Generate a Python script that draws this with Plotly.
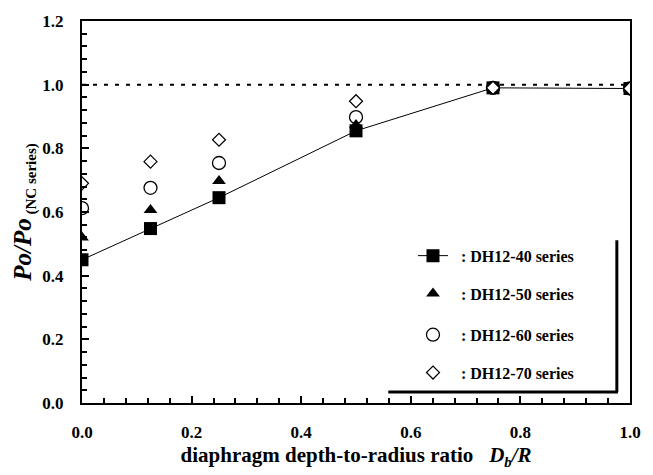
import plotly.graph_objects as go

# ---- data ----
ratio = [0.0, 0.125, 0.25, 0.5, 0.75, 1.0]
dh12_40 = [0.45, 0.548, 0.645, 0.855, 0.99, 0.988]
dh12_50 = [0.52, 0.606, 0.697, 0.873, 0.99, 0.988]
dh12_60 = [0.612, 0.676, 0.754, 0.898, 0.99, 0.988]
dh12_70 = [0.69, 0.758, 0.827, 0.948, 0.99, 0.988]
ref_x = [0.0, 1.0]
ref_y = [1.0, 1.0]
x_ticks = [0.0, 0.2, 0.4, 0.6, 0.8, 1.0]
y_ticks = [0.0, 0.2, 0.4, 0.6, 0.8, 1.0, 1.2]

FONT = "Liberation Serif"

fig = go.Figure()

fig.add_trace(go.Scatter(
    x=ref_x, y=ref_y, mode="lines", showlegend=False, hoverinfo="skip",
    line=dict(color="black", width=2, dash="4px,7px")))

fig.add_trace(go.Scatter(
    x=ratio, y=dh12_40, mode="lines+markers", name="  : DH12-40 series",
    legend="legend",
    line=dict(color="black", width=1),
    marker=dict(symbol="square", size=13, color="black")))

fig.add_trace(go.Scatter(
    x=ratio, y=dh12_50, mode="markers", name="  : DH12-50 series",
    legend="legend2",
    marker=dict(symbol="triangle-up", size=12, color="black")))

fig.add_trace(go.Scatter(
    x=ratio, y=dh12_60, mode="markers", name="  : DH12-60 series",
    legend="legend3",
    marker=dict(symbol="circle-open", size=13, color="black",
                line=dict(width=1.3, color="black"))))

fig.add_trace(go.Scatter(
    x=ratio, y=dh12_70, mode="markers", name="  : DH12-70 series",
    legend="legend4",
    marker=dict(symbol="diamond", size=10, color="white",
                line=dict(width=1.2, color="black"))))

axis_common = dict(
    showline=True, linecolor="black", linewidth=2, mirror=True,
    ticks="inside", ticklen=7, tickwidth=2, tickcolor="black",
    showgrid=False, zeroline=False,
    tickfont=dict(family=FONT, size=17, color="black", weight="bold"),
)

fig.update_xaxes(
    **axis_common,
    range=[0, 1.0], tickvals=x_ticks, tickformat=".1f",
    ticklabelstandoff=13,
    minor=dict(dtick=0.04, ticks="inside", ticklen=5, tickwidth=2, tickcolor="black"),
    title=dict(text="diaphragm depth-to-radius ratio   <i>D<sub>b</sub>/R</i>",
               font=dict(family=FONT, size=21, color="black", weight="bold"),
               standoff=6),
)
fig.update_yaxes(
    **axis_common,
    range=[0, 1.2], tickvals=y_ticks, tickformat=".1f",
    ticklabelstandoff=13,
    minor=dict(dtick=0.04, ticks="inside", ticklen=5, tickwidth=2, tickcolor="black"),
    title=dict(text="<i>Po/Po</i><sub><span style='font-size:15px'> (NC series)</span></sub>",
               font=dict(family=FONT, size=25, color="black", weight="bold"),
               standoff=4),
)

fig.add_shape(type="line", xref="paper", yref="paper",
              x0=0.559, x1=0.978, y0=0.029, y1=0.029,
              line=dict(color="black", width=3))
fig.add_shape(type="line", xref="paper", yref="paper",
              x0=0.976, x1=0.976, y0=0.029, y1=0.426,
              line=dict(color="black", width=3))

legend_font = dict(family=FONT, size=16, color="black", weight="bold")
def leg(y):
    return dict(x=0.604, y=y, xanchor="left", yanchor="top",
                bgcolor="rgba(0,0,0,0)", font=legend_font)

fig.update_layout(
    width=653, height=475,
    margin=dict(l=82, r=22, t=19, b=71),
    paper_bgcolor="white", plot_bgcolor="white",
    legend=leg(0.43),
    legend2=leg(0.331),
    legend3=leg(0.223),
    legend4=leg(0.124),
)

fig.write_html("out.html")
